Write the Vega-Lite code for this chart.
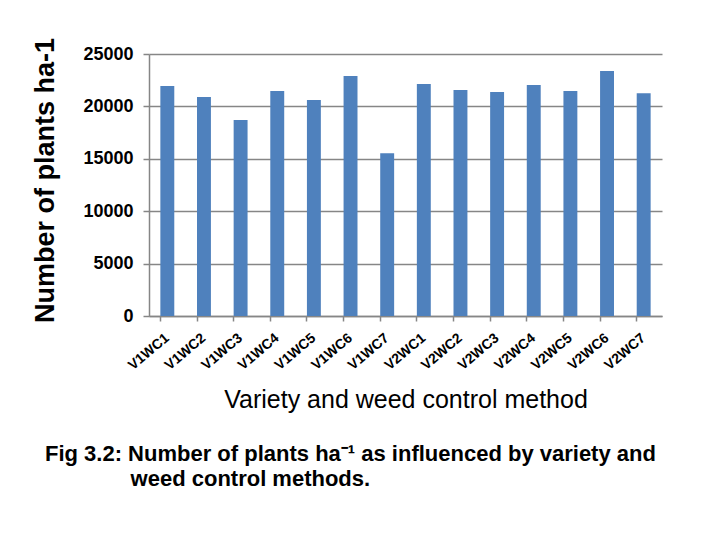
{
  "$schema": "https://vega.github.io/schema/vega-lite/v6.json",
  "width": 513,
  "height": 262,
  "autosize": {"type": "none"},
  "padding": {"left": 149, "top": 54, "right": 58, "bottom": 224},
  "background": "white",
  "config": {"font": "Liberation Sans", "view": {"stroke": null}},
  "title": {
    "text": ["Fig 3.2: Number of plants ha⁻¹ as influenced by variety and", "\u200b\u00a0\u00a0\u00a0\u00a0\u00a0\u00a0\u00a0\u00a0\u00a0\u00a0\u00a0\u00a0\u00a0\u00a0weed control methods."],
    "orient": "bottom",
    "anchor": "start",
    "frame": "group",
    "dx": -104,
    "offset": 32,
    "font": "Liberation Sans",
    "fontSize": 22,
    "fontWeight": "bold",
    "color": "black",
    "lineHeight": 25
  },
  "data": {
    "values": [
      {"treatment": "V1WC1", "plants": 21950},
      {"treatment": "V1WC2", "plants": 20900},
      {"treatment": "V1WC3", "plants": 18700},
      {"treatment": "V1WC4", "plants": 21470},
      {"treatment": "V1WC5", "plants": 20610},
      {"treatment": "V1WC6", "plants": 22900},
      {"treatment": "V1WC7", "plants": 15520},
      {"treatment": "V2WC1", "plants": 22140},
      {"treatment": "V2WC2", "plants": 21560},
      {"treatment": "V2WC3", "plants": 21370},
      {"treatment": "V2WC4", "plants": 22040},
      {"treatment": "V2WC5", "plants": 21470},
      {"treatment": "V2WC6", "plants": 23380},
      {"treatment": "V2WC7", "plants": 21250}
    ]
  },
  "mark": {"type": "bar", "color": "#4F81BD"},
  "encoding": {
    "x": {
      "field": "treatment",
      "type": "nominal",
      "sort": null,
      "scale": {"paddingInner": 0.62, "paddingOuter": 0.31},
      "axis": {
        "title": "Variety and weed control method",
        "titleFont": "Liberation Sans",
        "titleFontSize": 25,
        "titleFontWeight": "normal",
        "titleColor": "black",
        "titleY": 71,
        "titleBaseline": "top",
        "labelAngle": -40,
        "labelAlign": "right",
        "labelBaseline": "middle",
        "labelFont": "Liberation Sans",
        "labelFontSize": 14,
        "labelFontWeight": "bold",
        "labelColor": "black",
        "labelPadding": 15,
        "bandPosition": 0,
        "domainColor": "#868686",
        "domainWidth": 1.5,
        "tickColor": "#868686",
        "tickWidth": 1.5,
        "tickSize": 5,
        "grid": false
      }
    },
    "y": {
      "field": "plants",
      "type": "quantitative",
      "scale": {"domain": [0, 25000]},
      "axis": {
        "values": [0, 5000, 10000, 15000, 20000, 25000],
        "format": "d",
        "title": "Number of plants ha-1",
        "titleFont": "Liberation Sans",
        "titleFontSize": 27,
        "titleFontWeight": "bold",
        "titleColor": "black",
        "titleAngle": -90,
        "titleX": -96,
        "titleY": 126,
        "titleAlign": "center",
        "titleBaseline": "alphabetic",
        "labelFont": "Liberation Sans",
        "labelFontSize": 18,
        "labelFontWeight": "bold",
        "labelColor": "black",
        "labelPadding": 10,
        "domainColor": "#868686",
        "domainWidth": 1.5,
        "tickColor": "#868686",
        "tickWidth": 1.5,
        "tickSize": 6,
        "grid": true,
        "gridColor": "#868686",
        "gridWidth": 1.5
      }
    }
  }
}
